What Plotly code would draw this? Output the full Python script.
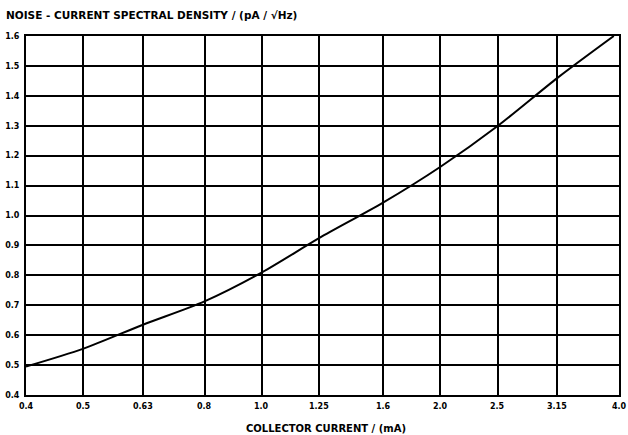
import numpy as np
import plotly.graph_objects as go

# Data
collector_current_mA = [0.4, 0.5, 0.63, 0.8, 1.0, 1.25, 1.6, 2.0, 2.5, 3.15, 3.92]
noise_current_density = [0.495, 0.555, 0.635, 0.713, 0.81, 0.925, 1.043, 1.163, 1.30, 1.46, 1.6]

x_ticks = [0.4, 0.5, 0.63, 0.8, 1.0, 1.25, 1.6, 2.0, 2.5, 3.15, 4.0]
x_tick_labels = ["0.4", "0.5", "0.63", "0.8", "1.0", "1.25", "1.6", "2.0", "2.5", "3.15", "4.0"]
y_ticks = [0.4, 0.5, 0.6, 0.7, 0.8, 0.9, 1.0, 1.1, 1.2, 1.3, 1.4, 1.5, 1.6]
y_tick_labels = ["0.4", "0.5", "0.6", "0.7", "0.8", "0.9", "1.0", "1.1", "1.2", "1.3", "1.4", "1.5", "1.6"]

FONT = "DejaVu Sans"

fig = go.Figure()
fig.add_trace(go.Scatter(
    x=collector_current_mA, y=noise_current_density,
    mode="lines", line=dict(color="black", width=2, shape="spline", smoothing=0.8),
    showlegend=False, hoverinfo="skip"))

annotations = [
    dict(text=f"<b>{lab}</b>", x=np.log10(v), xref="x", y=0, yref="paper",
         yshift=-11, xanchor="center", yanchor="middle", showarrow=False,
         font=dict(size=8, family=FONT))
    for v, lab in zip(x_ticks, x_tick_labels)
]
annotations += [
    dict(text="<b>NOISE - CURRENT SPECTRAL DENSITY / (pA / √Hz)</b>",
         xref="paper", yref="paper", x=-0.037, y=1.0, yshift=21,
         xanchor="left", yanchor="middle", showarrow=False,
         font=dict(size=10.5, family=FONT)),
    dict(text="<b>COLLECTOR CURRENT / (mA)</b>",
         xref="paper", yref="paper", x=0.506, y=0, yshift=-33,
         xanchor="center", yanchor="middle", showarrow=False,
         font=dict(size=10, family=FONT)),
]

fig.update_layout(
    width=628, height=435,
    margin=dict(l=26, r=9, t=36, b=40),
    paper_bgcolor="white", plot_bgcolor="white",
    font=dict(family=FONT, color="black", size=8),
    xaxis=dict(
        type="log", range=[np.log10(0.4), np.log10(4.0)],
        tickvals=x_ticks, showticklabels=False, automargin=False,
        showgrid=True, gridcolor="black", gridwidth=1.5,
        showline=True, linecolor="black", linewidth=2, mirror=True,
        ticks="", zeroline=False,
    ),
    yaxis=dict(
        range=[0.4, 1.6], automargin=False,
        tickvals=y_ticks, ticktext=[f"<b>{t}</b>" for t in y_tick_labels],
        showgrid=True, gridcolor="black", gridwidth=1.5,
        showline=True, linecolor="black", linewidth=2, mirror=True,
        ticks="", zeroline=False, tickfont=dict(size=8, family=FONT),
        ticklabelstandoff=3,
    ),
    annotations=annotations,
)

fig.write_html(
    "out.html",
    config={"displayModeBar": False},
    post_script="document.body.style.margin='0';document.body.style.padding='0';",
)
